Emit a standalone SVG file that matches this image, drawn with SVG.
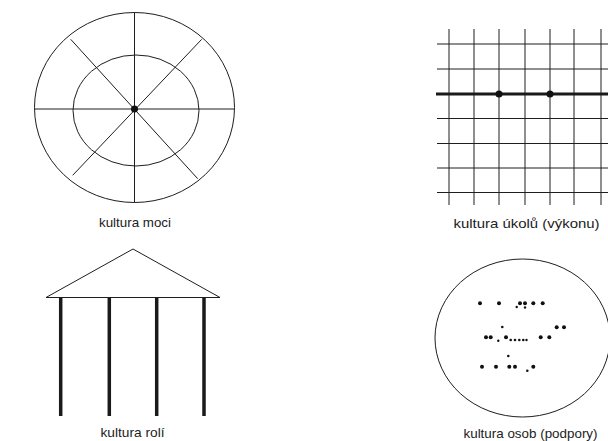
<svg xmlns="http://www.w3.org/2000/svg" width="608" height="441" viewBox="0 0 608 441">
<style>
.ln{fill:none;stroke:#1e1e1e;stroke-width:1}
.thick{fill:none;stroke:#1a1a1a;stroke-width:3}
.col{stroke:#1a1a1a;stroke-width:3.5}
.dot{fill:#111}
.lbl{font-family:"Liberation Sans",Arial,sans-serif;font-size:13px;fill:#222;text-anchor:middle}
</style>
<rect width="608" height="441" fill="#fff"/>
<g id="power">
<ellipse class="ln" cx="134.5" cy="107.5" rx="100" ry="95"/>
<ellipse class="ln" cx="136" cy="110.5" rx="63" ry="55.5"/>
<line class="ln" x1="134.5" y1="12.5" x2="134.5" y2="202.5"/>
<line class="ln" x1="34.5" y1="109" x2="234.5" y2="109"/>
<line class="ln" x1="70.7" y1="39.3" x2="197.7" y2="178.7"/>
<line class="ln" x1="201.7" y1="39.3" x2="72.7" y2="175.3"/>
<circle class="dot" cx="134.5" cy="109" r="3.5"/>
<text class="lbl" x="135" y="227" textLength="72" lengthAdjust="spacingAndGlyphs">kultura moci</text>
</g>
<g id="task">
<g class="ln">
<line x1="449" y1="29" x2="449" y2="205"/>
<line x1="474" y1="29" x2="474" y2="205"/>
<line x1="499" y1="29" x2="499" y2="205"/>
<line x1="525" y1="29" x2="525" y2="205"/>
<line x1="550" y1="29" x2="550" y2="205"/>
<line x1="574" y1="29" x2="574" y2="205"/>
<line x1="601" y1="29" x2="601" y2="205"/>
<line x1="437" y1="44" x2="608" y2="44"/>
<line x1="437" y1="69" x2="608" y2="69"/>
<line x1="437" y1="118.5" x2="608" y2="118.5"/>
<line x1="437" y1="143.5" x2="608" y2="143.5"/>
<line x1="437" y1="168" x2="608" y2="168"/>
<line x1="437" y1="192.5" x2="608" y2="192.5"/>
</g>
<line class="thick" x1="436" y1="94" x2="608" y2="94"/>
<circle class="dot" cx="499" cy="94" r="3.5"/>
<circle class="dot" cx="550" cy="94" r="3.5"/>
<text class="lbl" x="526.5" y="228" textLength="146" lengthAdjust="spacingAndGlyphs">kultura úkolů (výkonu)</text>
</g>
<g id="role">
<polygon class="ln" points="133,249 46,297.5 220,297.5"/>
<line class="col" x1="60.7" y1="298" x2="60.7" y2="416"/>
<line class="col" x1="109.3" y1="298" x2="109.3" y2="416"/>
<line class="col" x1="156.7" y1="298" x2="156.7" y2="416"/>
<line class="col" x1="204" y1="298" x2="204" y2="416"/>
<text class="lbl" x="132.5" y="437" textLength="64" lengthAdjust="spacingAndGlyphs">kultura rolí</text>
</g>
<g id="person">
<ellipse class="ln" cx="522.5" cy="338" rx="87.5" ry="79"/>
<g class="dot">
<circle cx="480" cy="303.3" r="2"/><circle cx="499" cy="303.3" r="2"/><circle cx="516.7" cy="307" r="1.2"/>
<circle cx="520" cy="303.3" r="2"/><circle cx="525" cy="303.3" r="2"/><circle cx="525" cy="307.5" r="1.2"/><circle cx="533.3" cy="303.3" r="2"/><circle cx="542.7" cy="303.3" r="2"/>
<circle cx="502.3" cy="327" r="1.3"/><circle cx="556.7" cy="327.3" r="2"/><circle cx="564" cy="327.3" r="2"/>
<circle cx="486" cy="337.3" r="2"/><circle cx="490.7" cy="337.3" r="2"/><circle cx="498.3" cy="340.7" r="1.2"/>
<circle cx="506" cy="337.3" r="2"/><circle cx="510.7" cy="340" r="1.3"/><circle cx="515" cy="340" r="1.3"/><circle cx="519.3" cy="340" r="1.3"/><circle cx="523.3" cy="340" r="1.3"/><circle cx="526.5" cy="340" r="1.2"/>
<circle cx="540.7" cy="337.3" r="2"/><circle cx="549.3" cy="337.3" r="2"/>
<circle cx="508.3" cy="356" r="1.3"/>
<circle cx="482" cy="366.7" r="2"/><circle cx="496" cy="366.7" r="2"/><circle cx="509.3" cy="366.7" r="2"/><circle cx="515" cy="366.7" r="2"/><circle cx="527.3" cy="370.7" r="1.3"/><circle cx="533.3" cy="366.7" r="2"/>
</g>
<text class="lbl" x="530.5" y="438" textLength="134" lengthAdjust="spacingAndGlyphs">kultura osob (podpory)</text>
</g>
</svg>
